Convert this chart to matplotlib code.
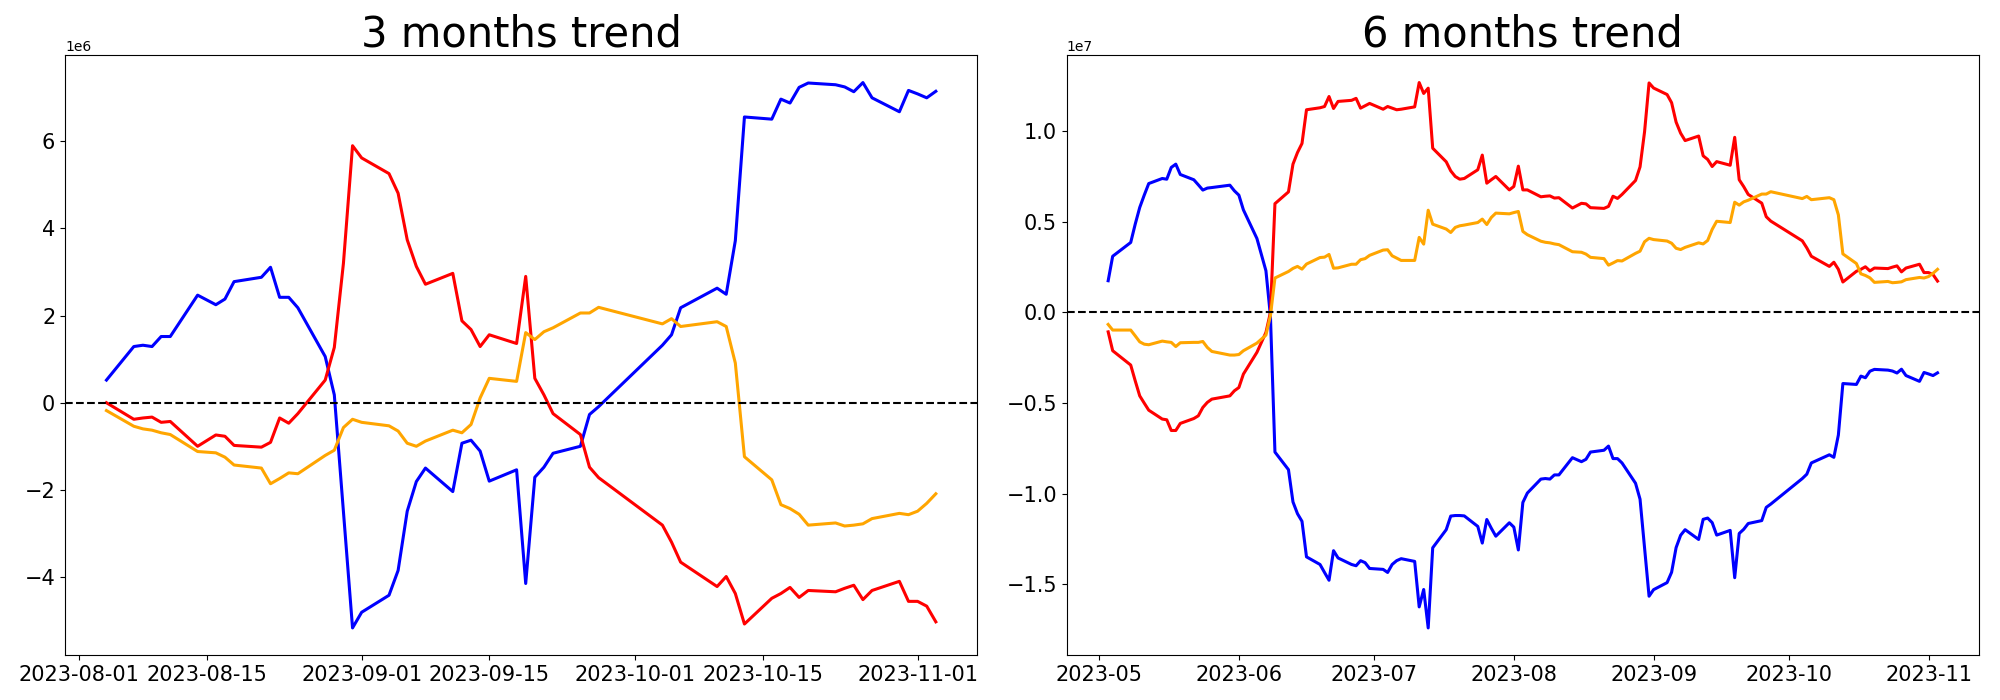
import numpy as np
import pandas as pd
import matplotlib
matplotlib.use('Agg')
import matplotlib.pyplot as plt

# KRX market holidays in the period (no trading on these days)
krx_holidays = ['2023-05-05', '2023-05-29', '2023-06-06', '2023-08-15', '2023-09-28',
                '2023-09-29', '2023-10-02', '2023-10-03', '2023-10-09']

dates_3m = pd.bdate_range('2023-08-04', '2023-11-03', freq='C', holidays=krx_holidays)
dates_6m = pd.bdate_range('2023-05-03', '2023-11-03', freq='C', holidays=krx_holidays)

# 3 months, cumulative, in 1e6
blue_3m = [0.52, 1.29, 1.32, 1.29, 1.52, 1.52, 2.47, 2.25, 2.38, 2.78, 2.88, 3.11, 2.42, 2.42, 2.18,
           1.06, 0.18, -2.5, -5.17, -4.81,
           -4.42, -3.85, -2.49, -1.81, -1.50, -2.04, -0.93, -0.86, -1.11, -1.80, -1.54, -4.15, -1.71,
           -1.48, -1.16, -1.0, -0.27, -0.09,
           1.32, 1.56, 2.18, 2.63, 2.49, 3.72, 6.56, 6.51, 6.97, 6.88, 7.24, 7.34, 7.3, 7.25, 7.14,
           7.35, 7.0, 6.68, 7.17,
           7.09, 7.0, 7.15]
red_3m = [0.0, -0.38, -0.35, -0.33, -0.45, -0.43, -1.0, -0.74, -0.77, -0.98, -1.02, -0.91, -0.35, -0.47,
          -0.25, 0.52, 1.27, 3.2, 5.9, 5.62,
          5.26, 4.81, 3.74, 3.13, 2.72, 2.97, 1.88, 1.68, 1.29, 1.56, 1.36, 2.90, 0.56, 0.18, -0.25,
          -0.73, -1.48, -1.72,
          -2.81, -3.2, -3.66, -4.22, -3.99, -4.38, -5.08, -4.49, -4.38, -4.24, -4.47, -4.31, -4.34,
          -4.26, -4.19, -4.52, -4.31, -4.10, -4.56,
          -4.56, -4.67, -5.03]
orange_3m = [-0.18, -0.54, -0.6, -0.63, -0.69, -0.73, -1.12, -1.15, -1.25, -1.43, -1.5, -1.86, -1.74,
             -1.61, -1.63, -1.21, -1.09, -0.57, -0.38, -0.45,
             -0.53, -0.65, -0.93, -1.0, -0.88, -0.63, -0.69, -0.5, 0.11, 0.56, 0.49, 1.61, 1.45, 1.63,
             1.72, 2.06, 2.06, 2.19,
             1.81, 1.93, 1.75, 1.86, 1.75, 0.91, -1.24, -1.77, -2.34, -2.43, -2.56, -2.81, -2.76,
             -2.83, -2.81, -2.78, -2.66, -2.54, -2.57,
             -2.49, -2.31, -2.09]

# 6 months, cumulative, in 1e7
blue_6m = [0.175, 0.31, 0.386, 0.487, 0.579, 0.647, 0.711, 0.739, 0.735, 0.80, 0.818, 0.761, 0.732,
           0.704, 0.675, 0.686, 0.689, 0.702, 0.671,
           0.647, 0.566, 0.408, 0.23, -0.02, -0.77, -0.867, -1.045, -1.11, -1.152, -1.348, -1.39,
           -1.434, -1.477, -1.314, -1.354, -1.39, -1.397, -1.369, -1.38, -1.412,
           -1.417, -1.434, -1.39, -1.369, -1.358, -1.373, -1.624, -1.528, -1.74, -1.298, -1.198,
           -1.123, -1.12, -1.12, -1.122, -1.18, -1.272, -1.142, -1.19, -1.234, -1.16,
           -1.184, -1.31, -1.048, -0.996, -0.919, -0.916, -0.919, -0.896, -0.896, -0.801, -0.823,
           -0.810, -0.770, -0.760, -0.737, -0.806, -0.806, -0.830, -0.942, -1.030, -1.298, -1.565,
           -1.529,
           -1.490, -1.433, -1.297, -1.229, -1.198, -1.252, -1.141, -1.134, -1.159, -1.228, -1.202,
           -1.463, -1.219, -1.196, -1.164, -1.148, -1.075, -1.057,
           -0.916, -0.892, -0.830, -0.785, -0.799, -0.676, -0.392, -0.397, -0.351, -0.360, -0.324,
           -0.314, -0.318, -0.323, -0.334, -0.313, -0.348, -0.380, -0.331,
           -0.339, -0.348, -0.333]
red_6m = [-0.107, -0.211, -0.29, -0.377, -0.46, -0.5, -0.539, -0.588, -0.592, -0.651, -0.651, -0.612,
          -0.585, -0.57, -0.524, -0.496, -0.478, -0.46, -0.432,
          -0.414, -0.34, -0.22, -0.11, 0.0, 0.60, 0.665, 0.818, 0.882, 0.932, 1.118, 1.129, 1.136,
          1.191, 1.125, 1.164, 1.17, 1.181, 1.127, 1.14, 1.153,
          1.121, 1.136, 1.127, 1.118, 1.121, 1.134, 1.268, 1.208, 1.237, 0.906, 0.831, 0.781, 0.75,
          0.735, 0.739, 0.787, 0.868, 0.713, 0.732, 0.75, 0.676,
          0.695, 0.807, 0.676, 0.676, 0.638, 0.641, 0.643, 0.631, 0.633, 0.576, 0.602, 0.599, 0.578,
          0.574, 0.585, 0.641, 0.629, 0.651, 0.728, 0.803, 0.996, 1.266, 1.238,
          1.202, 1.157, 1.050, 0.989, 0.948, 0.973, 0.864, 0.844, 0.805, 0.832, 0.812, 0.966, 0.732,
          0.694, 0.651, 0.603, 0.528, 0.504,
          0.395, 0.356, 0.310, 0.254, 0.277, 0.238, 0.168, 0.227, 0.238, 0.252, 0.229, 0.245, 0.242,
          0.250, 0.257, 0.224, 0.245, 0.266, 0.220,
          0.220, 0.209, 0.173]
orange_6m = [-0.066, -0.097, -0.097, -0.129, -0.162, -0.175, -0.178, -0.158, -0.162, -0.165, -0.188,
             -0.167, -0.165, -0.165, -0.16, -0.193, -0.215, -0.235, -0.235,
             -0.232, -0.211, -0.169, -0.125, -0.018, 0.19, 0.226, 0.243, 0.254, 0.239, 0.267, 0.303,
             0.305, 0.32, 0.244, 0.246, 0.266, 0.266, 0.291, 0.297, 0.315,
             0.344, 0.346, 0.3125, 0.3, 0.287, 0.287, 0.414, 0.377, 0.564, 0.487, 0.46, 0.441, 0.469,
             0.478, 0.482, 0.496, 0.515, 0.485, 0.524, 0.548, 0.544,
             0.551, 0.557, 0.447, 0.429, 0.393, 0.387, 0.384, 0.378, 0.374, 0.335, 0.332, 0.322,
             0.304, 0.297, 0.261, 0.273, 0.286, 0.284, 0.326, 0.338, 0.390, 0.409, 0.402,
             0.394, 0.382, 0.354, 0.347, 0.359, 0.384, 0.378, 0.397, 0.458, 0.503, 0.496, 0.608,
             0.592, 0.610, 0.619, 0.653, 0.653, 0.666,
             0.628, 0.640, 0.622, 0.633, 0.622, 0.538, 0.323, 0.270, 0.213, 0.204, 0.191, 0.166,
             0.171, 0.164, 0.166, 0.169, 0.181, 0.193, 0.190,
             0.198, 0.216, 0.238]

fig, (ax1, ax2) = plt.subplots(1, 2, figsize=(20, 7), dpi=100)
fig.subplots_adjust(left=0.0325, right=0.9895, bottom=0.064, top=0.921, wspace=0.098)

# 3 months
ax1.plot(dates_3m, np.array(blue_3m) * 1e6, color='blue', lw=2.2)
ax1.plot(dates_3m, np.array(red_3m) * 1e6, color='red', lw=2.2)
ax1.plot(dates_3m, np.array(orange_3m) * 1e6, color='orange', lw=2.2)
ax1.axhline(0, color='black', linestyle='--', lw=1.5)
ax1.set_title('3 months trend', fontsize=30)
ax1.tick_params(labelsize=15)

# 6 months
ax2.plot(dates_6m, np.array(blue_6m) * 1e7, color='blue', lw=2.2)
ax2.plot(dates_6m, np.array(red_6m) * 1e7, color='red', lw=2.2)
ax2.plot(dates_6m, np.array(orange_6m) * 1e7, color='orange', lw=2.2)
ax2.axhline(0, color='black', linestyle='--', lw=1.5)
ax2.set_title('6 months trend', fontsize=30)
ax2.tick_params(labelsize=15)

plt.savefig('out.png')
